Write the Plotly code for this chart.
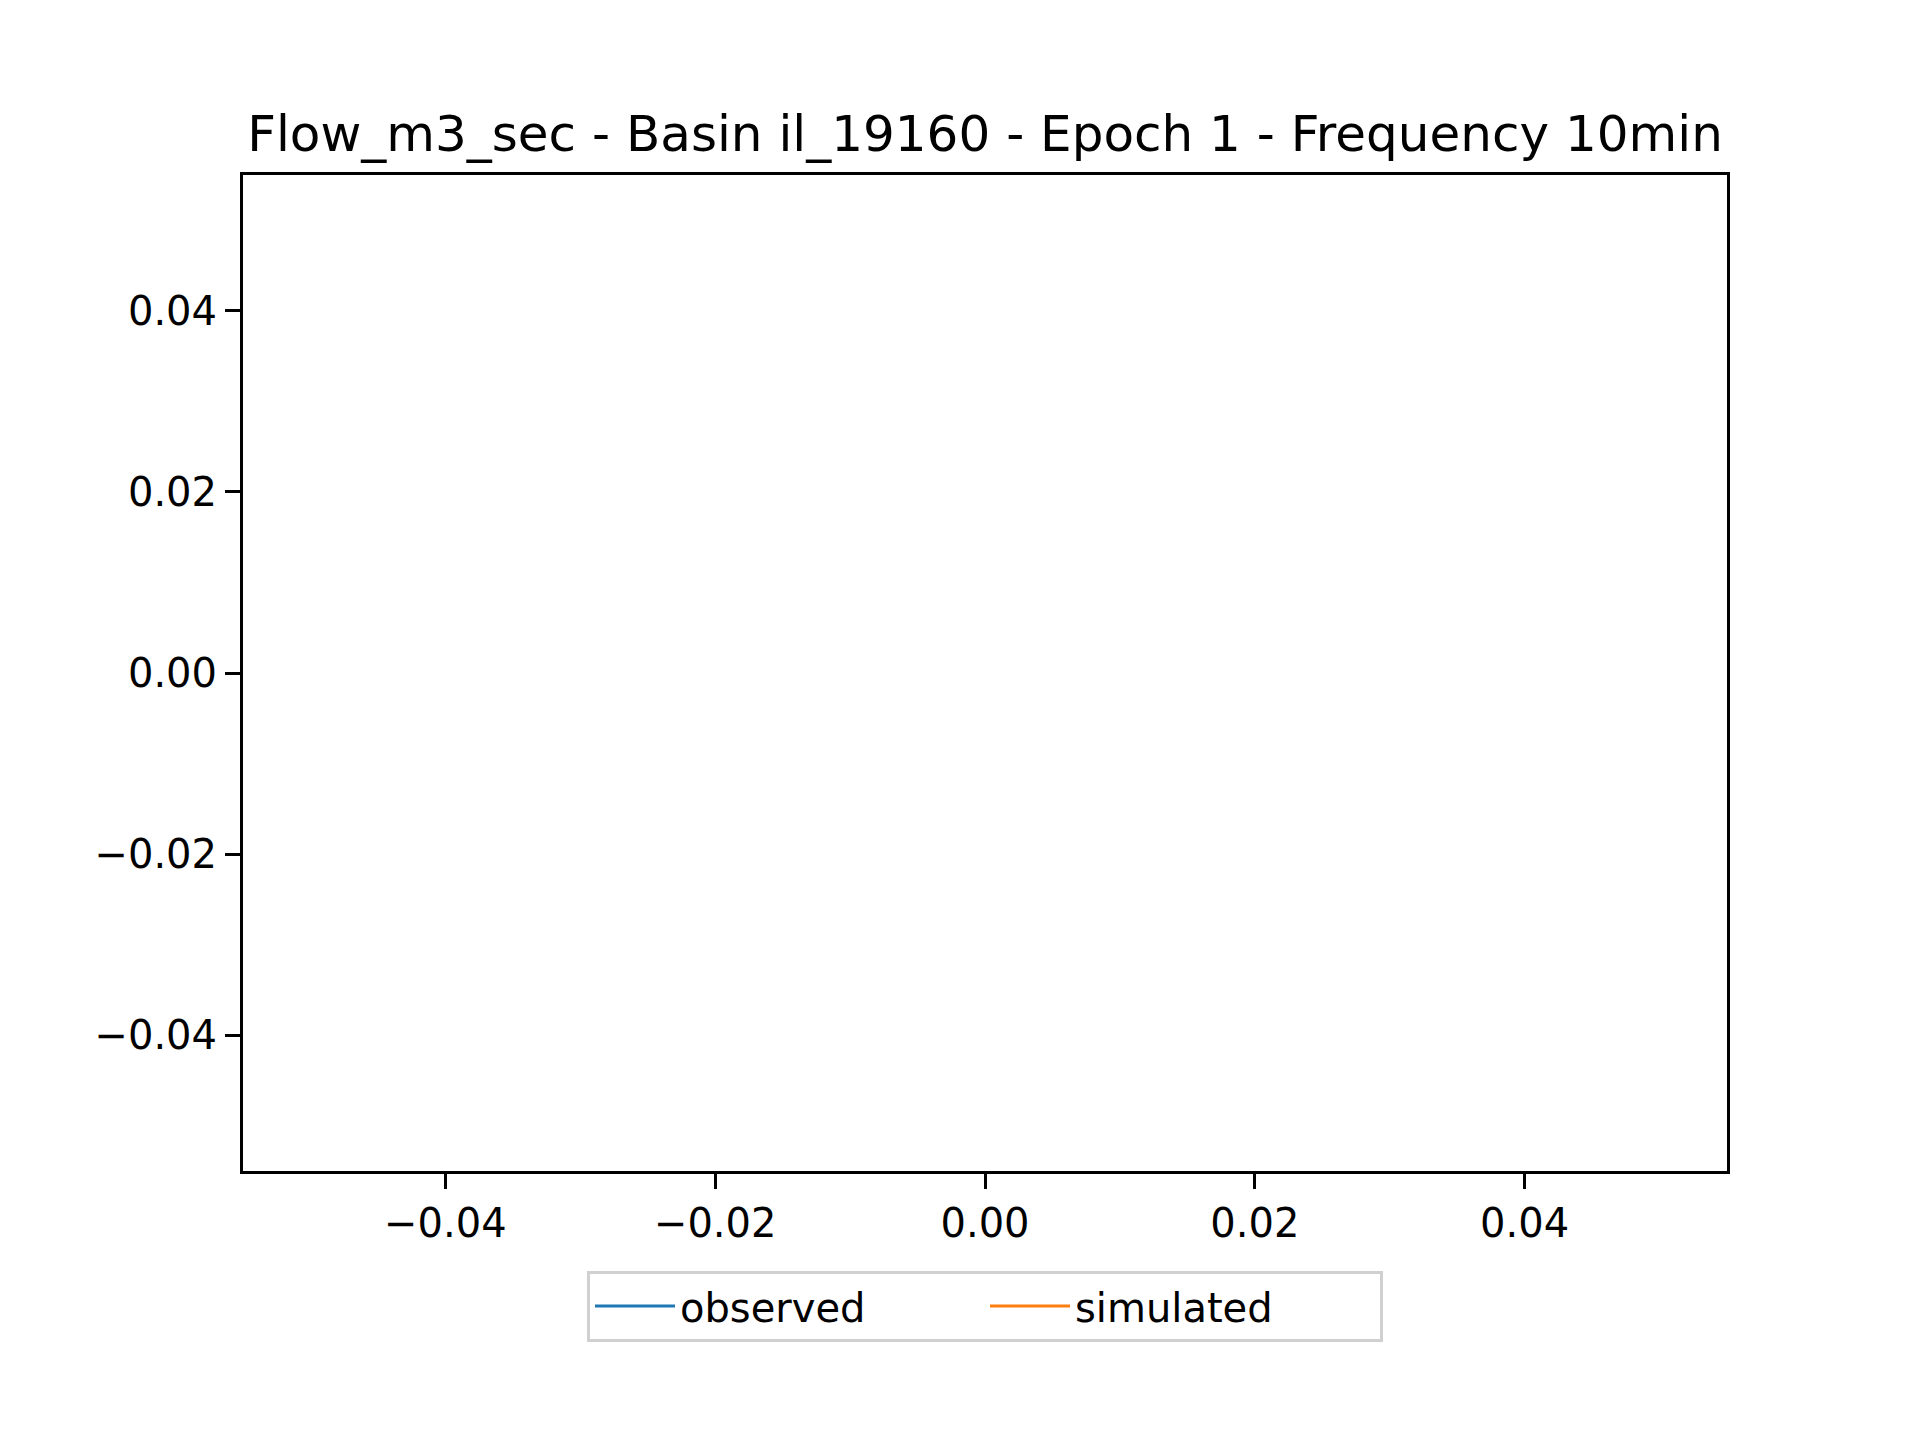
import plotly.graph_objects as go

# empty series: nothing plotted, only legend entries
obs_x = [None]
obs_y = [None]
sim_x = [None]
sim_y = [None]
tick_vals = [-0.04, -0.02, 0.0, 0.02, 0.04]
tick_text = ["\u22120.04", "\u22120.02", "0.00", "0.02", "0.04"]

W, H = 1920, 1440
fig = go.Figure()
fig.add_trace(go.Scatter(x=obs_x, y=obs_y, mode="lines", name="observed",
                         line=dict(color="#1f77b4", width=3)))
fig.add_trace(go.Scatter(x=sim_x, y=sim_y, mode="lines", name="simulated",
                         line=dict(color="#ff7f0e", width=3)))

ax = dict(range=[-0.055, 0.055], tickvals=tick_vals, ticktext=tick_text,
          showgrid=False, zeroline=False, showline=True, linecolor="black",
          linewidth=3, mirror=True, ticks="outside", ticklen=15, tickwidth=3,
          tickcolor="black", tickfont=dict(size=40, color="black"))

fig.update_layout(
    width=W, height=H, plot_bgcolor="white", paper_bgcolor="white",
    font=dict(family="DejaVu Sans", color="black"),
    margin=dict(l=235, r=W - 1719, t=167, b=H - 1163),
    showlegend=True,
    title=dict(text="Flow_m3_sec - Basin il_19160 - Epoch 1 - Frequency 10min",
               x=(235 + 1719) / 2 / W, xanchor="center", y=1 - 125 / H,
               yanchor="middle", font=dict(size=50)),
    xaxis=ax, yaxis=ax,
    legend=dict(orientation="h", x=0.5, xanchor="center", y=-0.1, yanchor="top",
                bordercolor="#d0d0d0", borderwidth=3, font=dict(size=40),
                itemwidth=80, entrywidthmode="pixels", entrywidth=300),
)
fig.write_html("out.html")
